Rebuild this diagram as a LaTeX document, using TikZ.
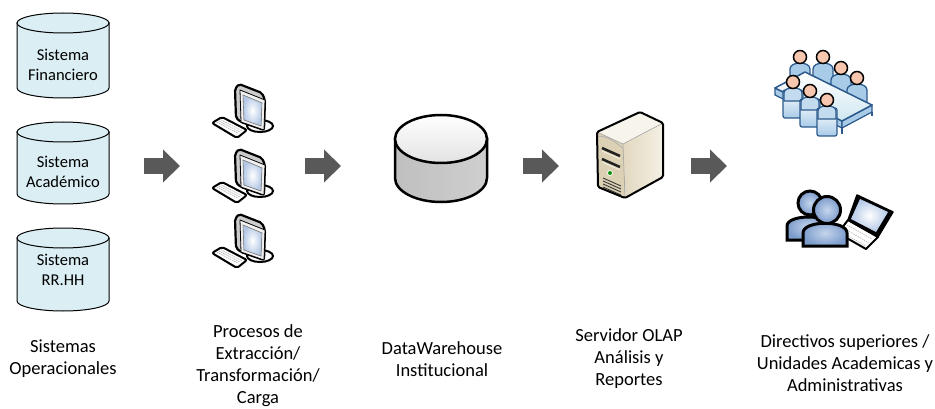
\documentclass[tikz,border=0pt]{standalone}
\usepackage{fontspec}
\setmainfont{Carlito}
\usetikzlibrary{arrows.meta}

\definecolor{cylfill}{HTML}{DAEEF3}
\definecolor{arrowgray}{HTML}{595959}
\definecolor{scrblue}{HTML}{B4C8E6}
\definecolor{srvside}{HTML}{F4F0E4}
\definecolor{srvsidedark}{HTML}{E2D8C0}
\definecolor{srvfront}{HTML}{DCD1B5}
\definecolor{srvtop}{HTML}{F7F4EC}
\definecolor{skin}{HTML}{F6C6AE}
\definecolor{seatblue}{HTML}{A8CBE8}
\definecolor{tableline}{HTML}{2C5A8C}
\definecolor{userlight}{HTML}{C6D6EC}
\definecolor{userdark}{HTML}{7C9CCC}

\tikzset{
  syscyl/.style={draw=black, line width=1pt, fill=cylfill},
  cyltext/.style={align=center, font=\fontsize{16.5}{20}\selectfont, inner sep=0pt},
  stagelabel/.style={align=center, font=\fontsize{18.5}{22}\selectfont, inner sep=0pt},
  blockarrow/.style={draw=arrowgray, line width=16pt, -{Triangle[length=17pt,width=32pt]}},
  pc/.pic={
    % monitor stand loop
    \draw[line width=2pt, fill=white] (25,43) ellipse[x radius=13pt, y radius=6pt];
    % monitor cabinet
    \draw[line width=2.2pt, fill=gray!40, rounded corners=2pt, line join=round]
      (0,6) -- (4,1) -- (27,10) -- (30,17) -- (29,47) -- (6,39) -- (1,35) -- cycle;
    % bezel
    \draw[line width=0.8pt, fill=gray!12, line join=round]
      (5,7) -- (30,17) -- (29,47) -- (6,39) -- cycle;
    % screen
    \fill[inner color=white, outer color=scrblue] (8,12) -- (27,20) -- (26,43) -- (9,37) -- cycle;
    \draw[line width=0.6pt, gray] (8,12) -- (27,20) -- (26,43) -- (9,37) -- cycle;
    % keyboard
    \draw[line width=2pt, fill=white, rounded corners=2pt, line join=round]
      (-23,40) -- (-13,34) -- (12,47) -- (2,55) -- cycle;
    \draw[gray!70, line width=0.5pt, dash pattern=on 1.6pt off 0.8pt]
      (-14,36.8) -- (7,47.8) (-16,38) -- (5,49) (-18,39.2) -- (3,50.2);
  }
}

\begin{document}
\begin{tikzpicture}[x=1pt, y=-1pt]
\useasboundingbox[fill=white] (0,0) rectangle (935,409);

% ---------- operational source systems ----------
\path[syscyl] (17,23) -- (17,88) arc[start angle=180, end angle=360, x radius=46pt, y radius=10pt] -- (109,23) -- cycle;
\path[syscyl] (63,23) ellipse[x radius=46pt, y radius=10pt];
\node[cyltext] (finan) at (63,65) {Sistema\\Financiero};

\path[syscyl] (17,132) -- (17,194) arc[start angle=180, end angle=360, x radius=46pt, y radius=10pt] -- (109,132) -- cycle;
\path[syscyl] (63,132) ellipse[x radius=46pt, y radius=10pt];
\node[cyltext] (acad) at (63,172) {Sistema\\Académico};

\path[syscyl] (17,238) -- (17,301) arc[start angle=180, end angle=360, x radius=46pt, y radius=10pt] -- (109,238) -- cycle;
\path[syscyl] (63,238) ellipse[x radius=46pt, y radius=10pt];
\node[cyltext] (rrhh) at (63,270) {Sistema\\RR.HH};

% ---------- ETL workstations ----------
\pic at (235,83) {pc};
\pic at (235,148) {pc};
\pic at (235,213) {pc};

% ---------- data warehouse ----------
\path[draw=black, line width=2.5pt, left color=gray!50, middle color=gray!12, right color=gray!38]
  (395,139) -- (395,178) arc[start angle=180, end angle=360, x radius=46pt, y radius=24pt] -- (487,139) -- cycle;
\path[draw=black, line width=2.5pt, top color=white, bottom color=gray!22]
  (441,139) ellipse[x radius=46pt, y radius=24pt];
\coordinate (dw) at (441,158);

% ---------- OLAP server ----------
\fill[left color=srvsidedark, right color=srvside] (623,144) -- (663,123) -- (663,177) -- (625,198) -- cycle;
\fill[srvtop] (597,132) -- (640,112) -- (663,123) -- (623,144) -- cycle;
\fill[srvfront] (597,132) -- (623,144) -- (625,198) -- (598,187) -- cycle;
\draw[gray!60, line width=0.8pt] (597,136) .. controls (608,137) .. (623,148);
\draw[gray!70, line width=0.6pt] (623,144) -- (625,198) (623,144) -- (597,132) (623,144) -- (663,123);
\draw[line width=2.5pt, gray!25!black] (602,148) -- (620,156) (602,159) -- (620,167);
\draw[line width=0.8pt, srvside] (602,151) -- (620,159) (602,162) -- (620,170);
\draw[fill=green!55!black, draw=white, line width=0.8pt] (610,173) circle[radius=2.5pt];
\draw[line width=0.9pt, gray!40!black] (603,178) -- (621,186) (603,181) -- (621,189) (603,184) -- (621,192) (603,187) -- (621,195);
\draw[line width=2pt, line join=round, rounded corners=1.5pt]
  (597,132) -- (640,112) -- (663,123) -- (663,177) -- (625,198) -- (598,187) -- cycle;
\coordinate (olap) at (630,155);

% ---------- management meeting ----------
\foreach \hx/\hy in {800/57, 823/57, 841/68, 857/78}{
  \draw[fill=seatblue, draw=tableline, line width=1.3pt]
    (\hx-10,\hy+27) -- (\hx-10,\hy+12) .. controls (\hx-10,\hy+4) and (\hx+10,\hy+4) .. (\hx+10,\hy+12) -- (\hx+10,\hy+27) -- cycle;
  \draw[fill=skin, draw=black, line width=1.5pt] (\hx,\hy) circle[radius=6.5pt];
}
\draw[fill=seatblue, draw=tableline, line width=1.2pt]
  (775,88) -- (842,121) -- (842,128) -- (775,95) -- cycle;
\draw[fill=seatblue, draw=tableline, line width=1.2pt]
  (842,121) -- (872,105) -- (872,112) -- (842,128) -- cycle;
\draw[top color=white, bottom color=cylfill!80!seatblue, draw=tableline, line width=1.5pt, line join=round]
  (775,88) -- (805,72) -- (872,105) -- (842,121) -- cycle;
\draw[tableline, line width=1.5pt] (842,128) -- (842,134) (872,112) -- (872,116);
\foreach \hx/\hy in {793/82, 810/91, 827/100}{
  \draw[top color=white, bottom color=seatblue, draw=tableline, line width=1.2pt, rounded corners=2pt]
    (\hx-10,\hy+36) -- (\hx-10,\hy+8) -- (\hx+10,\hy+8) -- (\hx+10,\hy+36) -- cycle;
  \draw[fill=seatblue!70!white, draw=tableline, line width=1.2pt]
    (\hx-9,\hy+19) -- (\hx-9,\hy+11) .. controls (\hx-9,\hy+4) and (\hx+9,\hy+4) .. (\hx+9,\hy+11) -- (\hx+9,\hy+19) -- cycle;
  \draw[fill=skin, draw=black, line width=1.5pt] (\hx,\hy) circle[radius=6.5pt];
}
\coordinate (meeting) at (850,85);

% ---------- users with laptop ----------
\draw[fill=white, line width=2pt, line join=round] (848,220) -- (878,237) -- (866,249) -- (838,233) -- cycle;
\draw[gray!60, line width=0.5pt, dash pattern=on 1.6pt off 0.8pt]
  (847,225) -- (872,239) (845,229) -- (869,243) (843,233) -- (866,246);
\draw[fill=black, line width=1.5pt, line join=round] (857,195) -- (893,212) -- (878,237) -- (848,220) -- cycle;
\fill[inner color=white, outer color=scrblue] (860,199) -- (888,212) -- (876,232) -- (851,219) -- cycle;
\draw[inner color=userlight, outer color=userdark, draw=black, line width=3pt]
  (787,240) -- (787,226) .. controls (787,214) and (830,214) .. (830,226) -- (830,240) -- cycle;
\draw[inner color=userlight, outer color=userdark, draw=black, line width=3pt] (810,203) circle[radius=12pt];
\draw[inner color=userlight, outer color=userdark, draw=black, line width=3pt]
  (803,246) -- (803,233) .. controls (803,220) and (847,220) .. (847,233) -- (847,246) -- cycle;
\draw[inner color=userlight, outer color=userdark, draw=black, line width=3pt] (827,210) circle[radius=13.5pt];
\coordinate (users) at (840,220);

% ---------- flow arrows ----------
\coordinate (a1s) at (144,166); \coordinate (a1e) at (180,166);
\coordinate (a2s) at (305,166); \coordinate (a2e) at (341,166);
\coordinate (a3s) at (523,166); \coordinate (a3e) at (559,166);
\coordinate (a4s) at (691,166); \coordinate (a4e) at (727,166);
\draw[blockarrow] (a1s) -- (a1e);
\draw[blockarrow] (a2s) -- (a2e);
\draw[blockarrow] (a3s) -- (a3e);
\draw[blockarrow] (a4s) -- (a4e);

% ---------- stage captions ----------
\node[stagelabel] (lsrc) at (63,359) {Sistemas\\Operacionales};
\node[stagelabel] (letl) at (258,366) {Procesos de\\Extracción/\\Transformación/\\Carga};
\node[stagelabel] (ldw) at (442,359) {DataWarehouse\\Institucional};
\node[stagelabel] (lolap) at (629,359) {Servidor OLAP\\Análisis y\\Reportes};
\node[stagelabel] (lusr) at (845,363) {Directivos superiores /\\Unidades Academicas y\\Administrativas};
\end{tikzpicture}
\end{document}
